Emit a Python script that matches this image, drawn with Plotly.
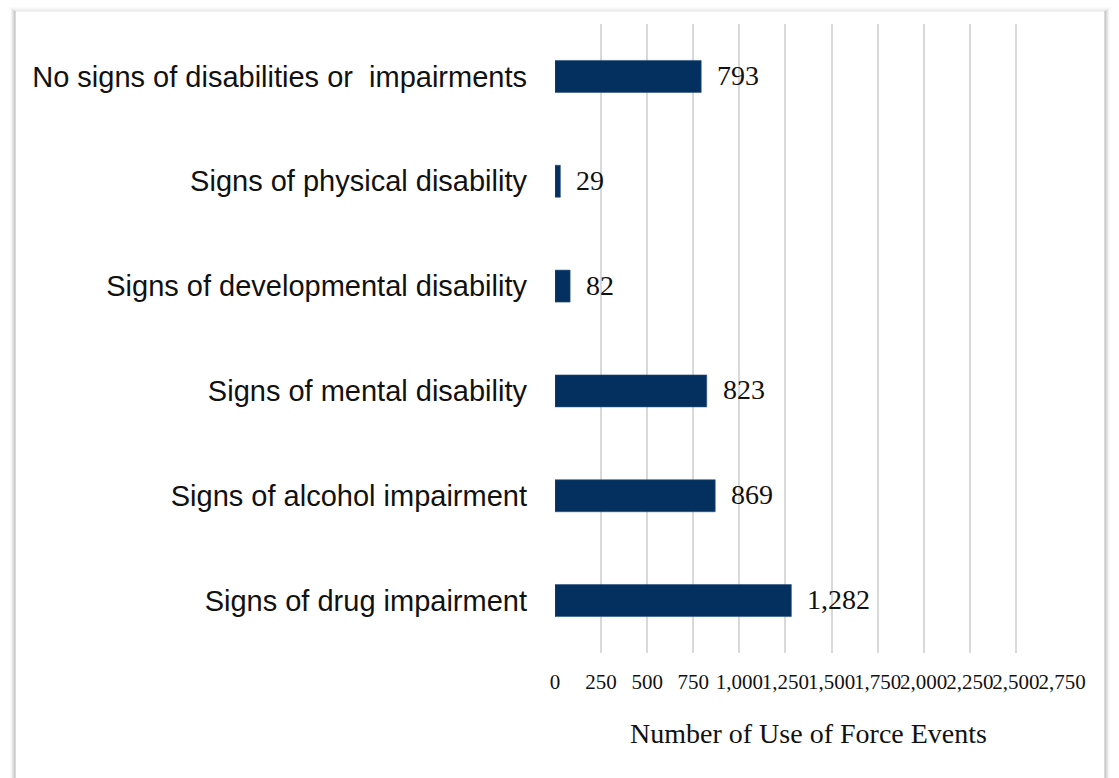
import plotly.graph_objects as go

# Use-of-force events by observed disability / impairment sign
categories = [
    "No signs of disabilities or \u00a0impairments",
    "Signs of physical disability",
    "Signs of developmental disability",
    "Signs of mental disability",
    "Signs of alcohol impairment",
    "Signs of drug impairment",
]
events = [793, 29, 82, 823, 869, 1282]
x_ticks = [0, 250, 500, 750, 1000, 1250, 1500, 1750, 2000, 2250, 2500, 2750]

W, H = 1119, 778
M_L, M_R, M_T, M_B = 555, 57, 24, 125
PW, PH = W - M_L - M_R, H - M_T - M_B

BAR_COLOR = "#03305f"
SERIF = "Liberation Serif, Times New Roman, serif"
SANS = "Liberation Sans, Arial, sans-serif"


def px_x(p):
    return (p - M_L) / PW


def px_y(p):
    return 1 - (p - M_T) / PH


fig = go.Figure(
    go.Bar(
        x=events,
        y=categories,
        orientation="h",
        marker=dict(color=BAR_COLOR, line=dict(color="#2a5080", width=0.6)),
        hoverinfo="x+y",
    )
)

# value labels to the right of each bar
for cat, val in zip(categories, events):
    fig.add_annotation(
        x=val, y=cat, xref="x", yref="y",
        text=f"{val:,}", showarrow=False,
        xanchor="left", yanchor="middle", xshift=14, yshift=1,
        font=dict(family=SERIF, size=28, color="#111111"),
    )

# soft drop-shadow frame around the chart panel
shapes = []
for i, op in enumerate([0.55, 0.35, 0.22, 0.12, 0.06]):
    c = f"rgba(120,120,120,{op})"
    xl = 15 - i
    xr = 1105 + i
    yt = 11 - i
    shapes.append(dict(type="line", xref="paper", yref="paper",
                       x0=px_x(xl), x1=px_x(xl), y0=px_y(yt), y1=px_y(H + 5),
                       line=dict(color=c, width=1)))
    shapes.append(dict(type="line", xref="paper", yref="paper",
                       x0=px_x(xr), x1=px_x(xr), y0=px_y(yt), y1=px_y(H + 5),
                       line=dict(color=c, width=1)))
    shapes.append(dict(type="line", xref="paper", yref="paper",
                       x0=px_x(xl), x1=px_x(xr), y0=px_y(yt), y1=px_y(yt),
                       line=dict(color=f"rgba(120,120,120,{op * 0.35})", width=1)))

fig.update_layout(
    width=W, height=H,
    margin=dict(l=M_L, r=M_R, t=M_T, b=M_B),
    paper_bgcolor="white", plot_bgcolor="white",
    bargap=0.695,
    showlegend=False,
    shapes=shapes,
    xaxis=dict(
        range=[0, 2750],
        tickvals=x_ticks,
        ticktext=[f"{v:,}" for v in x_ticks],
        tickangle=0,
        showgrid=True, gridcolor="#d9d9d9", gridwidth=1.5,
        zeroline=False, showline=False,
        ticks="", ticklabelstandoff=14,
        tickfont=dict(family=SERIF, size=21, color="#111111"),
        title=dict(text="Number of Use of Force Events",
                   font=dict(family=SERIF, size=28, color="#111111"),
                   standoff=30),
    ),
    yaxis=dict(
        autorange="reversed",
        showgrid=False, zeroline=False, showline=False,
        ticks="", ticklabelstandoff=27,
        tickfont=dict(family=SANS, size=29, color="#111111"),
    ),
)

fig.write_html("out.html")
